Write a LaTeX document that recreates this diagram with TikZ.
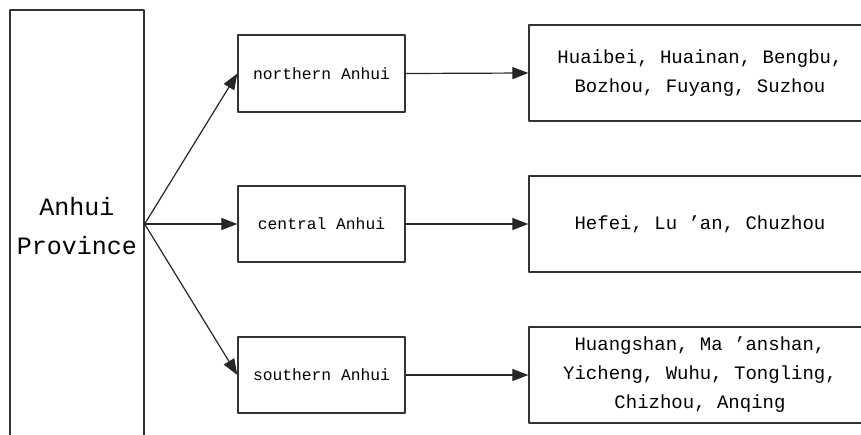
\documentclass[tikz,border=0pt]{standalone}
\usepackage{fontspec}
\usepackage{tikz}
\usetikzlibrary{arrows.meta}
\newfontfamily\regionfont{Liberation Mono}

\begin{document}
\begin{tikzpicture}[line cap=round,line join=round,>={Triangle[length=16pt,width=12pt]},x=1pt,y=-1pt,
    box/.style={draw=black!80,line width=1.3pt,align=center,inner sep=0pt,font=\regionfont},
    link/.style={->,draw=black!85,line width=1.2pt}]
      \useasboundingbox (0,0) rectangle (861,434);
      \clip (0,0) rectangle (861,434);
      % province box, runs past the bottom edge
      \node[box,minimum width=134pt,minimum height=440pt] (prov) at (77,230) {};
      \node[font=\regionfont\fontsize{25}{39}\selectfont,align=center] (provtext) at (77,226) {Anhui\\Province};
      % regions
      \node[box,minimum width=167pt,minimum height=77pt,font=\regionfont\fontsize{16.3}{20}\selectfont] (north) at (321.5,73.5) {northern Anhui};
      \node[box,minimum width=167pt,minimum height=76pt,font=\regionfont\fontsize{16.3}{20}\selectfont] (central) at (321.5,224) {central Anhui};
      \node[box,minimum width=167pt,minimum height=76pt,font=\regionfont\fontsize{16.3}{20}\selectfont] (south) at (321.5,375) {southern Anhui};
      % cities, boxes run past the right edge
      \node[box,minimum width=342pt,minimum height=96pt,font=\regionfont\fontsize{19}{29}\selectfont] (northcity) at (700,73) {Huaibei, Huainan, Bengbu,\\Bozhou, Fuyang, Suzhou};
      \node[box,minimum width=342pt,minimum height=96pt,font=\regionfont\fontsize{19}{29}\selectfont] (centralcity) at (700,224) {Hefei, Lu ’an, Chuzhou};
      \node[box,minimum width=342pt,minimum height=96pt,font=\regionfont\fontsize{19}{29}\selectfont] (southcity) at (700,375) {Huangshan, Ma ’anshan,\\Yicheng, Wuhu, Tongling,\\Chizhou, Anqing};

      \coordinate (fork) at (prov.east |- 0,224);
      \draw[link] (fork) -- (north.west);
      \draw[link] (fork) -- (central.west);
      \draw[link] (fork) -- (south.west);

      \draw[link] (north.east) -- (northcity.west);
      \draw[link] (central.east) -- (centralcity.west);
      \draw[link] (south.east) -- (southcity.west);
    \end{tikzpicture}
\end{document}
